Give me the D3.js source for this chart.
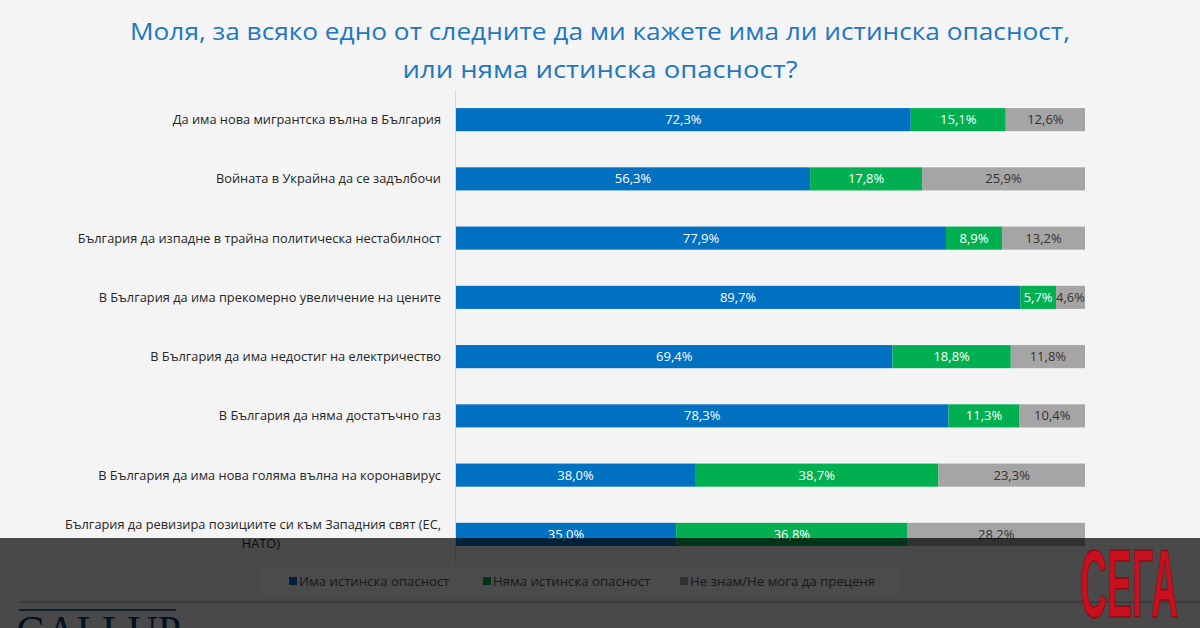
<!DOCTYPE html>
<html><head><meta charset="utf-8">
<script src="https://cdn.jsdelivr.net/npm/d3@7"></script>
<style>html,body{margin:0;padding:0;background:#f4f4f4;}svg{display:block;}</style>
</head><body>
<svg id="c" width="1200" height="628"></svg>
<script>
const titleLines = ["Моля, за всяко едно от следните да ми кажете има ли истинска опасност,", "или няма истинска опасност?"];
const categories = [
  ["Да има нова мигрантска вълна в България"],
  ["Войната в Украйна да се задълбочи"],
  ["България да изпадне в трайна политическа нестабилност"],
  ["В България да има прекомерно увеличение на цените"],
  ["В България да има недостиг на електричество"],
  ["В България да няма достатъчно газ"],
  ["В България да има нова голяма вълна на коронавирус"],
  ["България да ревизира позициите си към Западния свят (ЕС,", "НАТО)"]
];
const seriesNames = ["Има истинска опасност", "Няма истинска опасност", "Не знам/Не мога да преценя"];
const danger   = [72.3, 56.3, 77.9, 89.7, 69.4, 78.3, 38.0, 35.0];
const noDanger = [15.1, 17.8, 8.9, 5.7, 18.8, 11.3, 38.7, 36.8];
const dontKnow = [12.6, 25.9, 13.2, 4.6, 11.8, 10.4, 23.3, 28.2];
const colors = ["#0070c0", "#00b050", "#a5a5a5"];
const labelColors = ["#ffffff", "#ffffff", "#333333"];

const svg = d3.select("#c");
svg.append("rect").attr("width",1200).attr("height",628).attr("fill","#f4f4f4");

// title
svg.append("g").selectAll("text").data(titleLines).join("text")
  .attr("x",600).attr("y",(d,i)=>40+i*38)
  .attr("text-anchor","middle")
  .attr("font-family","'Open Sans', sans-serif")
  .attr("font-size",23.5)
  .attr("fill","#2277c2")
  .attr("textLength",(d,i)=> i===0 ? 940 : 395)
  .attr("lengthAdjust","spacingAndGlyphs")
  .text(d=>d);

const x = d3.scaleLinear().domain([0,100]).range([456,1085]);
const y = d3.scaleBand().domain(d3.range(categories.length)).range([90,564]).paddingInner(0.61).paddingOuter(0.305);

// axis line
svg.append("line").attr("x1",455.5).attr("x2",455.5).attr("y1",90).attr("y2",564).attr("stroke","#d9d9d9");

const data = categories.map((c,i)=>({i, vals:[danger[i],noDanger[i],dontKnow[i]]}));
const stack = d3.stack().keys([0,1,2]).value((d,k)=>d.vals[k]);
const stacked = stack(data);

const g = svg.append("g");
stacked.forEach((layer,k)=>{
  g.append("g").selectAll("rect").data(layer).join("rect")
    .attr("x",d=>x(d[0])).attr("width",d=>x(d[1])-x(d[0]))
    .attr("y",d=>y(d.data.i)).attr("height",y.bandwidth())
    .attr("fill",colors[k]);
  g.append("g").selectAll("text").data(layer).join("text")
    .attr("x",d=>(x(d[0])+x(d[1]))/2)
    .attr("y",d=>y(d.data.i)+y.bandwidth()/2+4.5)
    .attr("text-anchor","middle")
    .attr("font-family","'Open Sans', sans-serif")
    .attr("font-size",13)
    .attr("fill",labelColors[k])
    .text(d=>d.data.vals[k].toFixed(1).replace(".",",")+"%");
});

// category labels
const lg = svg.append("g").attr("font-family","'Open Sans', sans-serif").attr("font-size",12.8).attr("fill","#262626");
categories.forEach((lines,i)=>{
  const cy = y(i)+y.bandwidth()/2;
  if(lines.length===1){
    lg.append("text").attr("x",441).attr("y",cy+4.5).attr("text-anchor","end").text(lines[0]);
  } else {
    const t1 = lg.append("text").attr("x",441).attr("y",cy-5).attr("text-anchor","end").text(lines[0]);
    const w = t1.node().getComputedTextLength();
    lg.append("text").attr("x",441-w/2+8).attr("y",cy+14).attr("text-anchor","middle").text(lines[1]);
  }
});

// legend
svg.append("rect").attr("x",258).attr("y",567).attr("width",642).attr("height",27).attr("fill","#fafafa");
const legX = [289, 483, 680];
const leg = svg.append("g").selectAll("g").data(seriesNames).join("g")
  .attr("transform",(d,i)=>`translate(${legX[i]},581)`);
leg.append("rect").attr("x",0).attr("y",-4).attr("width",8).attr("height",8).attr("fill",(d,i)=>colors[i]);
leg.append("text").attr("x",10).attr("y",4.5).attr("font-family","'Open Sans', sans-serif").attr("font-size",13.2).attr("fill","#595959").text(d=>d);

// bottom rule and Gallup logo
svg.append("line").attr("x1",19).attr("x2",1200).attr("y1",602).attr("y2",602).attr("stroke","#a6a6a6");
svg.append("line").attr("x1",19).attr("x2",176).attr("y1",610).attr("y2",610).attr("stroke","#0b3f7a").attr("stroke-width",1.5);
svg.append("text").attr("x",16).attr("y",648).attr("font-family","'Liberation Serif', serif").attr("font-size",46)
  .attr("fill","#0b3f7a").attr("textLength",165).attr("lengthAdjust","spacingAndGlyphs").text("GALLUP");

// dark overlay band
svg.append("rect").attr("x",0).attr("y",538).attr("width",1200).attr("height",90).attr("fill","#000").attr("fill-opacity",0.7);

// СЕГА logo
svg.append("text").attr("x",0).attr("y",0)
  .attr("transform","translate(1080,617) scale(1,1.62)")
  .attr("font-family","'Liberation Sans', sans-serif").attr("font-weight","bold").attr("font-size",60)
  .attr("fill","#c8101e").attr("stroke","#8a0a12").attr("stroke-width",0.8)
  .attr("textLength",98).attr("lengthAdjust","spacingAndGlyphs").text("СЕГА");
</script>
</body></html>
